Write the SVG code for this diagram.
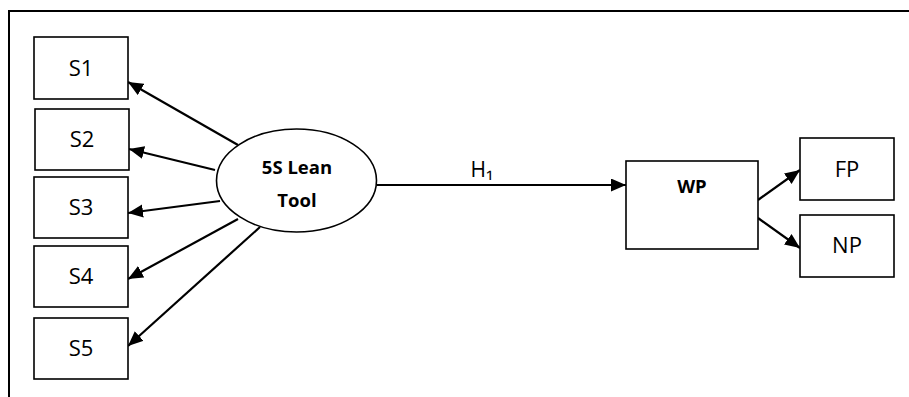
<svg xmlns="http://www.w3.org/2000/svg" width="909" height="397" viewBox="0 0 909 397">
<style>
.box{fill:#fff;stroke:#000;stroke-width:1.6}
.lbl{font-family:"Open Sans","Liberation Sans",sans-serif;font-size:22px;fill:#000;text-anchor:middle}
.bold{font-weight:bold;font-size:18.5px}
.h1{font-size:21px}
.edge{stroke:#000;stroke-width:2.2;fill:none;marker-end:url(#ah)}
</style>
<defs>
<marker id="ah" markerUnits="userSpaceOnUse" markerWidth="16" markerHeight="14" refX="15" refY="6.5" orient="auto">
<path d="M0,0 L15,6.5 L0,13 z" fill="#000"/>
</marker>
</defs>
<g id="frame">
<path d="M8,11 H909 M9,11 V397" stroke="#000" stroke-width="2" fill="none"/>
</g>
<g id="connectors">
<line class="edge" x1="238" y1="145" x2="128" y2="82"/>
<line class="edge" x1="215" y1="170" x2="129" y2="149"/>
<line class="edge" x1="220" y1="201" x2="128" y2="213"/>
<line class="edge" x1="238" y1="219" x2="128" y2="279"/>
<line class="edge" x1="260" y1="227" x2="128" y2="346"/>
<line class="edge" x1="377" y1="185" x2="626" y2="185"/>
<line class="edge" x1="758" y1="200" x2="800" y2="170"/>
<line class="edge" x1="758" y1="218" x2="800" y2="248"/>
<text class="lbl h1" x="482" y="177">H₁</text>
</g>
<g id="S1"><rect class="box" x="34" y="37" width="94" height="62"/><text class="lbl" x="81" y="76">S1</text></g>
<g id="S2"><rect class="box" x="35" y="109" width="94" height="61"/><text class="lbl" x="82" y="147">S2</text></g>
<g id="S3"><rect class="box" x="34" y="177" width="94" height="61"/><text class="lbl" x="81" y="215">S3</text></g>
<g id="S4"><rect class="box" x="34" y="246" width="94" height="61"/><text class="lbl" x="81" y="284">S4</text></g>
<g id="S5"><rect class="box" x="34" y="318" width="94" height="61"/><text class="lbl" x="81" y="356">S5</text></g>
<g id="lean"><ellipse class="box" cx="296.5" cy="180.5" rx="80" ry="51.5"/><text class="lbl bold" x="297" y="174">5S Lean</text><text class="lbl bold" x="297" y="207">Tool</text></g>
<g id="WP"><rect class="box" x="626" y="161" width="132" height="88"/><text class="lbl bold" x="692" y="193">WP</text></g>
<g id="FP"><rect class="box" x="800" y="138" width="94" height="62"/><text class="lbl" x="847" y="177">FP</text></g>
<g id="NP"><rect class="box" x="800" y="215" width="94" height="62"/><text class="lbl" x="847" y="253">NP</text></g>
</svg>
